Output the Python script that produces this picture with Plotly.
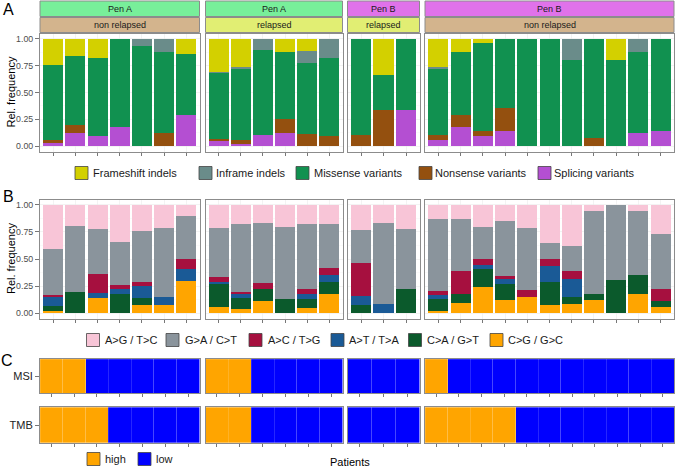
import plotly.graph_objects as go

W, H = 676, 468

# ---------------- data ----------------
facet_sizes = [7, 6, 3, 11]
pen_labels = ["Pen A", "Pen A", "Pen B", "Pen B"]
relapse_labels = ["non relapsed", "relapsed", "relapsed", "non relapsed"]

# Panel A: variant type proportions per patient (facets concatenated)
frameshift = [0.24, 0.16, 0.18, 0, 0, 0, 0.143,
              0.31, 0.265, 0, 0.125, 0.111, 0,
              0, 0.333, 0,
              0.26, 0.118, 0.043, 0, 0, 0, 0, 0, 0.20, 0, 0]
inframe = [0, 0, 0, 0, 0.07, 0.125, 0,
           0.012, 0.015, 0.10, 0, 0.111, 0.182,
           0, 0, 0,
           0.025, 0, 0, 0, 0, 0, 0.20, 0, 0, 0.123, 0]
missense = [0.70, 0.64, 0.73, 0.82, 0.93, 0.75, 0.571,
            0.608, 0.665, 0.795, 0.625, 0.667, 0.727,
            0.90, 0.334, 0.667,
            0.61, 0.588, 0.818, 0.642, 1.0, 1.0, 0.80, 0.923, 0.80, 0.75, 0.858]
nonsense = [0.03, 0.08, 0, 0, 0, 0.125, 0,
            0.02, 0.035, 0, 0.125, 0.111, 0.091,
            0.10, 0.333, 0,
            0.05, 0.118, 0.043, 0.219, 0, 0, 0, 0.077, 0, 0, 0]
splicing = [0.03, 0.12, 0.09, 0.18, 0, 0, 0.286,
            0.05, 0.02, 0.105, 0.125, 0, 0,
            0, 0, 0.333,
            0.055, 0.176, 0.096, 0.139, 0, 0, 0, 0, 0, 0.127, 0.142]

# Panel B: substitution type proportions per patient
sub_ag = [0.405, 0.193, 0.227, 0.347, 0.245, 0.212, 0.10,
          0.212, 0.172, 0.163, 0.20, 0.172, 0.175,
          0.23, 0.163, 0.221,
          0.126, 0.129, 0.202, 0.15, 0.212, 0.356, 0.383, 0.055, 0, 0.055, 0.273]
sub_ga = [0.426, 0.611, 0.408, 0.392, 0.467, 0.641, 0.40,
          0.457, 0.635, 0.558, 0.668, 0.607, 0.411,
          0.307, 0.751, 0.555,
          0.668, 0.478, 0.298, 0.503, 0.573, 0.144, 0.227, 0.767, 0.696, 0.589, 0.50]
sub_ac = [0.022, 0, 0.181, 0.04, 0.036, 0, 0.095,
          0.04, 0.015, 0.058, 0, 0.046, 0.058,
          0.307, 0, 0,
          0.04, 0.218, 0.058, 0.034, 0.068, 0.067, 0.077, 0, 0, 0, 0.114]
sub_at = [0.08, 0, 0.049, 0.049, 0.108, 0.073, 0.105,
          0.021, 0.043, 0, 0, 0.043, 0.065,
          0.079, 0.086, 0,
          0.04, 0, 0.031, 0.04, 0, 0.148, 0.16, 0, 0, 0, 0]
sub_ca = [0.047, 0.196, 0, 0.172, 0.07, 0, 0,
          0.215, 0.101, 0.108, 0.132, 0.086, 0.113,
          0.077, 0, 0.224,
          0.111, 0.083, 0.172, 0.153, 0, 0.211, 0.07, 0.055, 0.304, 0.175, 0.055]
sub_cg = [0.02, 0, 0.135, 0, 0.074, 0.074, 0.30,
          0.055, 0.034, 0.113, 0, 0.046, 0.178,
          0, 0, 0,
          0.015, 0.092, 0.239, 0.12, 0.147, 0.074, 0.083, 0.123, 0, 0.181, 0.058]

# Panel C: MSI / TMB status
msi_status = ["high", "high", "low", "low", "low", "low", "low",
              "high", "high", "low", "low", "low", "low",
              "low", "low", "low",
              "high", "low", "low", "low", "low", "low", "low", "low", "low", "low", "low"]
tmb_status = ["high", "high", "high", "low", "low", "low", "low",
              "high", "high", "low", "low", "low", "low",
              "low", "low", "low",
              "high", "high", "high", "high", "low", "low", "low", "low", "low", "low", "low"]
tile_height = [1] * 27

# ---------------- styles ----------------
FONT = "Liberation Sans, Arial, Helvetica, sans-serif"
a_names = ["Frameshift indels", "Inframe indels", "Missense variants", "Nonsense variants", "Splicing variants"]
a_colors = ["#d3d000", "#6a8c8a", "#119150", "#94500f", "#b44fd2"]
a_values = [frameshift, inframe, missense, nonsense, splicing]

b_names = ["A>G / T>C", "G>A / C>T", "A>C / T>G", "A>T / T>A", "C>A / G>T", "C>G / G>C"]
b_colors = ["#f8c5d7", "#8a949c", "#a6103f", "#1a5a96", "#0b5a2c", "#ffa500"]
b_values = [sub_ag, sub_ga, sub_ac, sub_at, sub_ca, sub_cg]

status_colors = {"high": "#ffa500", "low": "#0000ff"}

strip_pen_colors = {"Pen A": "#78ef9a", "Pen B": "#e072ea"}
strip_rel_colors = {"non relapsed": "#d3b48d", "relapsed": "#e1ee73"}

BORDER = "#8c8c8c"
GRID = "#ebebeb"

# layout geometry (pixels)
col_px = [(40, 199.5), (205.5, 342.5), (347.5, 419.5), (425, 674)]
row_px = [(33.5, 151.5), (199.5, 318.5), (359, 393.3), (407.3, 442.7)]


def fx(p):
    return p / W


def fy(p):
    return 1 - p / H


fig = go.Figure()
offsets = [0]
for n in facet_sizes[:-1]:
    offsets.append(offsets[-1] + n)

layout_axes = {}


def axname(k):
    return ("x" if k == 1 else f"x{k}"), ("y" if k == 1 else f"y{k}")


for r in range(4):
    for c, n in enumerate(facet_sizes):
        k = r * 4 + c + 1
        xa, ya = axname(k)
        s = offsets[c]
        xs = list(range(n))
        if r == 0:
            for name, vals, col in reversed(list(zip(a_names, a_values, a_colors))):
                fig.add_trace(go.Bar(x=xs, y=vals[s:s + n], name=name, marker=dict(color=col, line=dict(width=0)),
                                     xaxis=xa, yaxis=ya, showlegend=False, hoverinfo="skip"))
        elif r == 1:
            for name, vals, col in reversed(list(zip(b_names, b_values, b_colors))):
                fig.add_trace(go.Bar(x=xs, y=vals[s:s + n], name=name, marker=dict(color=col, line=dict(width=0)),
                                     xaxis=xa, yaxis=ya, showlegend=False, hoverinfo="skip"))
        else:
            stat = msi_status if r == 2 else tmb_status
            fig.add_trace(go.Bar(x=xs, y=tile_height[s:s + n], width=1,
                                 marker=dict(color=[status_colors[v] for v in stat[s:s + n]],
                                             line=dict(color="rgba(255,255,255,0.25)", width=0.6)),
                                 xaxis=xa, yaxis=ya, showlegend=False, hoverinfo="skip"))

        x0, x1 = col_px[c]
        y0, y1 = row_px[r]
        xkey = "xaxis" if k == 1 else f"xaxis{k}"
        ykey = "yaxis" if k == 1 else f"yaxis{k}"
        if r < 2:
            xr = [-0.6, n - 0.4]
        else:
            xr = [-0.5, n - 0.5]
        layout_axes[xkey] = dict(domain=[fx(x0), fx(x1)], anchor=ya, range=xr, fixedrange=True,
                                 tickvals=xs, showticklabels=False, ticks="outside", ticklen=3,
                                 tickcolor="#555555", tickwidth=0.8,
                                 showline=True, mirror=True, linecolor=BORDER, linewidth=1,
                                 showgrid=True, gridcolor=GRID, gridwidth=0.6, zeroline=False)
        yd = dict(domain=[fy(y1), fy(y0)], anchor=xa, fixedrange=True,
                  showline=True, mirror=True, linecolor=BORDER, linewidth=1, zeroline=False,
                  ticks="outside" if c == 0 else "", ticklen=4, tickcolor="#555555", tickwidth=0.8)
        if r < 2:
            yd.update(range=[-0.05, 1.05], tickvals=[0, 0.25, 0.5, 0.75, 1],
                      ticktext=["0.00", "0.25", "0.50", "0.75", "1.00"],
                      showticklabels=(c == 0), tickfont=dict(size=8.8, color="#4d4d4d", family=FONT),
                      showgrid=True, gridcolor=GRID, gridwidth=0.6,
                      minor=dict(tickvals=[0.125, 0.375, 0.625, 0.875], showgrid=True,
                                 gridcolor="#f3f3f3", gridwidth=0.4, ticks=""))
        else:
            yd.update(range=[0, 1], tickvals=[0.5], ticktext=["MSI" if r == 2 else "TMB"],
                      showticklabels=(c == 0), tickfont=dict(size=11, color="#222222", family=FONT),
                      showgrid=False)
        layout_axes[ykey] = yd

fig.update_layout(**layout_axes)

shapes = []
annotations = []

# strips
for c in range(4):
    x0, x1 = col_px[c]
    for (sy0, sy1), lab, cmap in [((1.0, 16.5), pen_labels[c], strip_pen_colors),
                                   ((17.5, 32.5), relapse_labels[c], strip_rel_colors)]:
        shapes.append(dict(type="rect", xref="paper", yref="paper", x0=fx(x0), x1=fx(x1), y0=fy(sy1), y1=fy(sy0),
                           fillcolor=cmap[lab], line=dict(color=BORDER, width=1), layer="above"))
        annotations.append(dict(xref="paper", yref="paper", x=fx((x0 + x1) / 2), y=fy((sy0 + sy1) / 2),
                                text=lab, showarrow=False, xanchor="center", yanchor="middle",
                                font=dict(size=9, color="#1a1a1a", family=FONT)))

# panel letters
for lab, (px, py) in zip(["A", "B", "C"], [(8, 9), (8, 196), (7, 360)]):
    annotations.append(dict(xref="paper", yref="paper", x=fx(px), y=fy(py), text=lab, showarrow=False,
                            xanchor="center", yanchor="middle", font=dict(size=16, color="#000000", family=FONT)))

# y axis titles
for r in range(2):
    y0, y1 = row_px[r]
    annotations.append(dict(xref="paper", yref="paper", x=fx(11), y=fy((y0 + y1) / 2), text="Rel. frequency",
                            textangle=-90, showarrow=False, xanchor="center", yanchor="middle",
                            font=dict(size=11, color="#000000", family=FONT)))


def legend_row(names, colors, sq_lefts, txt_lefts, yc):
    for name, col, sx, tx in zip(names, colors, sq_lefts, txt_lefts):
        shapes.append(dict(type="rect", xref="paper", yref="paper", x0=fx(sx), x1=fx(sx + 13),
                           y0=fy(yc + 6.5), y1=fy(yc - 6.5), fillcolor=col,
                           line=dict(color="#444444", width=0.8)))
        annotations.append(dict(xref="paper", yref="paper", x=fx(tx), y=fy(yc), text=name, showarrow=False,
                                xanchor="left", yanchor="middle", font=dict(size=11, color="#1a1a1a", family=FONT)))


legend_row(a_names, a_colors, [75, 199, 296, 419, 538], [91, 214, 312, 433, 552], 173)
legend_row(b_names, b_colors, [86.5, 166, 249, 331, 408.5, 490], [103, 183, 266, 347, 425, 506], 340)
legend_row(["high", "low"], [status_colors["high"], status_colors["low"]], [87, 138], [103, 154], 459)

annotations.append(dict(xref="paper", yref="paper", x=fx(350), y=fy(462), text="Patients", showarrow=False,
                        xanchor="center", yanchor="middle", font=dict(size=11, color="#000000", family=FONT)))

fig.update_layout(
    width=W, height=H, autosize=False,
    margin=dict(l=0, r=0, t=0, b=0),
    paper_bgcolor="white", plot_bgcolor="white",
    barmode="stack", bargap=0.1,
    shapes=shapes, annotations=annotations,
    font=dict(family=FONT),
    showlegend=False,
)

fig.write_html("out.html", config={"displayModeBar": False, "staticPlot": True},
               post_script="document.body.style.margin='0';document.body.style.padding='0';"
                           "document.body.style.overflow='hidden';")
